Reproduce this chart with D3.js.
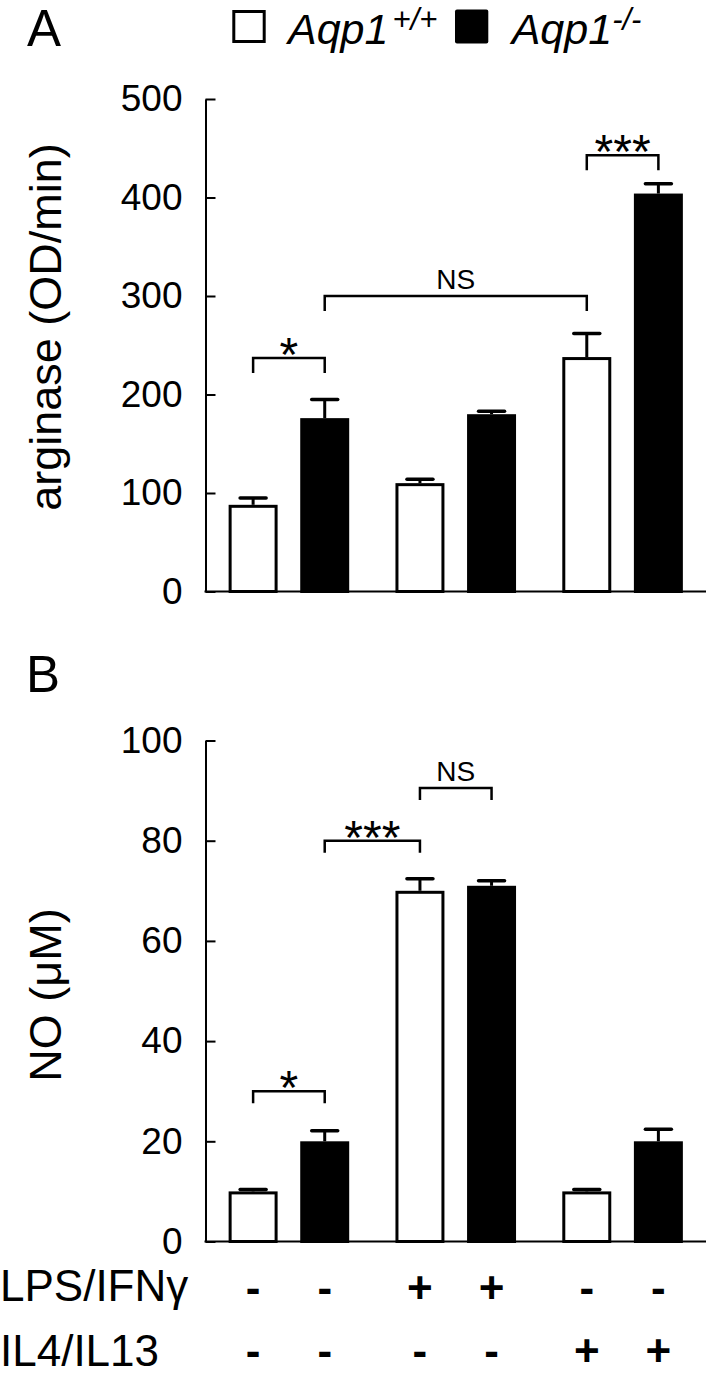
<!DOCTYPE html>
<html><head><meta charset="utf-8">
<script src="https://cdn.jsdelivr.net/npm/d3@7"></script>
<style>
body{margin:0;background:#fff}
svg{display:block}
text{font-family:"Liberation Sans",Arial,sans-serif;fill:#000}
</style>
</head><body>
<svg id="chart" width="707" height="1376"></svg>
<script>
// ---- data ----
const conditions = ["control", "LPS/IFNγ", "IL4/IL13"];
const genotypes = ["Aqp1+/+", "Aqp1-/-"];
const arginaseMean = [88, 176, 110, 180, 238, 404];
const arginaseSem  = [7, 19, 4, 3, 24, 10];
const noMean = [10, 20, 70, 71, 10, 20];
const noSem  = [0.4, 2.1, 2.4, 1.0, 0.4, 2.4];
const arginaseTicks = [0, 100, 200, 300, 400, 500];
const noTicks = [0, 20, 40, 60, 80, 100];
const lpsSigns = ["-", "-", "+", "+", "-", "-"];
const ilSigns  = ["-", "-", "-", "-", "+", "+"];
// [bar from, bar to, bracket height (data units), label]
const arginaseBrackets = [[0, 1, 237, "*"], [1, 4, 300, "NS"], [4, 5, 443, "***"]];
const noBrackets = [[0, 1, 30, "*"], [1, 2, 80, "***"], [2, 3, 90.5, "NS"]];

// ---- layout ----
const svg = d3.select("#chart");
const axisX = 205.5, rightX = 706;
const xG = d3.scaleBand().domain(conditions).range([axisX, rightX]).padding(0);
const xI = d3.scaleBand().domain(genotypes).range([0, xG.bandwidth()])
  .paddingInner(0.316).paddingOuter(0.323);
const bw = xI.bandwidth();
const barLeft = i => xG(conditions[Math.floor(i / 2)]) + xI(genotypes[i % 2]);
const barCenter = i => barLeft(i) + bw / 2;

const yA = d3.scaleLinear().domain([0, 500]).range([591.5, 99]);
const yB = d3.scaleLinear().domain([0, 100]).range([1241.5, 740.5]);

function panel(y, ticks, means, sems, brackets, legLen) {
  const g = svg.append("g");
  // bars
  means.forEach((v, i) => {
    g.append("rect")
      .attr("x", barLeft(i) + 1.5).attr("width", bw - 3)
      .attr("y", y(v) + 1.5).attr("height", y(0) - y(v) - 1.5)
      .attr("fill", i % 2 ? "#000" : "#fff")
      .attr("stroke", "#000").attr("stroke-width", 3);
    const cx = barCenter(i), top = y(v + sems[i]);
    g.append("line").attr("x1", cx).attr("x2", cx).attr("y1", y(v)).attr("y2", top)
      .attr("stroke", "#000").attr("stroke-width", 3);
    g.append("line").attr("x1", cx - 13).attr("x2", cx + 13).attr("y1", top).attr("y2", top)
      .attr("stroke", "#000").attr("stroke-width", 3.5).attr("stroke-linecap", "round");
  });
  // y axis
  const ax = g.append("g").attr("transform", `translate(${axisX},0)`)
    .call(d3.axisLeft(y).tickValues(ticks).tickSizeInner(-10).tickSizeOuter(0).tickPadding(23));
  ax.attr("font-family", null).attr("font-size", null);
  ax.select(".domain").attr("stroke-width", 2);
  ax.selectAll(".tick line").attr("stroke-width", 2);
  ax.selectAll(".tick text").attr("font-size", 37);
  // x baseline
  g.append("line").attr("x1", axisX - 1).attr("x2", rightX).attr("y1", y(0)).attr("y2", y(0))
    .attr("stroke", "#000").attr("stroke-width", 2);
  // brackets
  brackets.forEach(([a, b, h, lab]) => {
    const x1 = barCenter(a), x2 = barCenter(b), yy = y(h);
    g.append("path")
      .attr("d", `M${x1},${yy + legLen}V${yy}H${x2}V${yy + legLen}`)
      .attr("fill", "none").attr("stroke", "#000").attr("stroke-width", 2.5);
    const isStar = lab.indexOf("*") >= 0;
    g.append("text").attr("x", (x1 + x2) / 2)
      .attr("y", isStar ? yy + 13 : yy - 7)
      .attr("text-anchor", "middle")
      .attr("font-size", isStar ? 48 : 28)
      .text(lab);
  });
  return g;
}

panel(yA, arginaseTicks, arginaseMean, arginaseSem, arginaseBrackets, 15);
panel(yB, noTicks, noMean, noSem, noBrackets, 12);

// axis titles
svg.append("text").attr("transform", "translate(61,327) rotate(-90)")
  .attr("text-anchor", "middle").attr("font-size", 45).text("arginase (OD/min)");
svg.append("text").attr("transform", "translate(61,995) rotate(-90)")
  .attr("text-anchor", "middle").attr("font-size", 45).text("NO (μM)");

// panel letters
svg.append("text").attr("x", 27).attr("y", 46).attr("font-size", 51).text("A");
svg.append("text").attr("x", 26).attr("y", 692).attr("font-size", 51).text("B");

// legend
svg.append("rect").attr("x", 233.8).attr("y", 11.5).attr("width", 30.4).attr("height", 30)
  .attr("fill", "#fff").attr("stroke", "#000").attr("stroke-width", 3);
const l1 = svg.append("text").attr("x", 288).attr("y", 43.5).attr("font-size", 43).attr("font-style", "italic");
l1.append("tspan").text("Aqp1");
l1.append("tspan").attr("font-size", 31).attr("dy", -14).attr("dx", 4).text("+/+");
svg.append("rect").attr("x", 455).attr("y", 9.5).attr("width", 33.3).attr("height", 34).attr("rx", 2)
  .attr("fill", "#000");
const l2 = svg.append("text").attr("x", 511.7).attr("y", 43.5).attr("font-size", 43).attr("font-style", "italic");
l2.append("tspan").text("Aqp1");
l2.append("tspan").attr("font-size", 31).attr("dy", -14).attr("dx", 0).text("-/-");

// treatment rows
svg.append("text").attr("x", 0).attr("y", 1301).attr("font-size", 44).text(conditions[1]);
svg.append("text").attr("x", 0).attr("y", 1366).attr("font-size", 44).text(conditions[2]);
lpsSigns.forEach((s, i) => svg.append("text").attr("x", barCenter(i)).attr("y", 1303)
  .attr("text-anchor", "middle").attr("font-size", 44).attr("font-weight", "bold").text(s));
ilSigns.forEach((s, i) => svg.append("text").attr("x", barCenter(i)).attr("y", 1366)
  .attr("text-anchor", "middle").attr("font-size", 44).attr("font-weight", "bold").text(s));
</script>
</body></html>
